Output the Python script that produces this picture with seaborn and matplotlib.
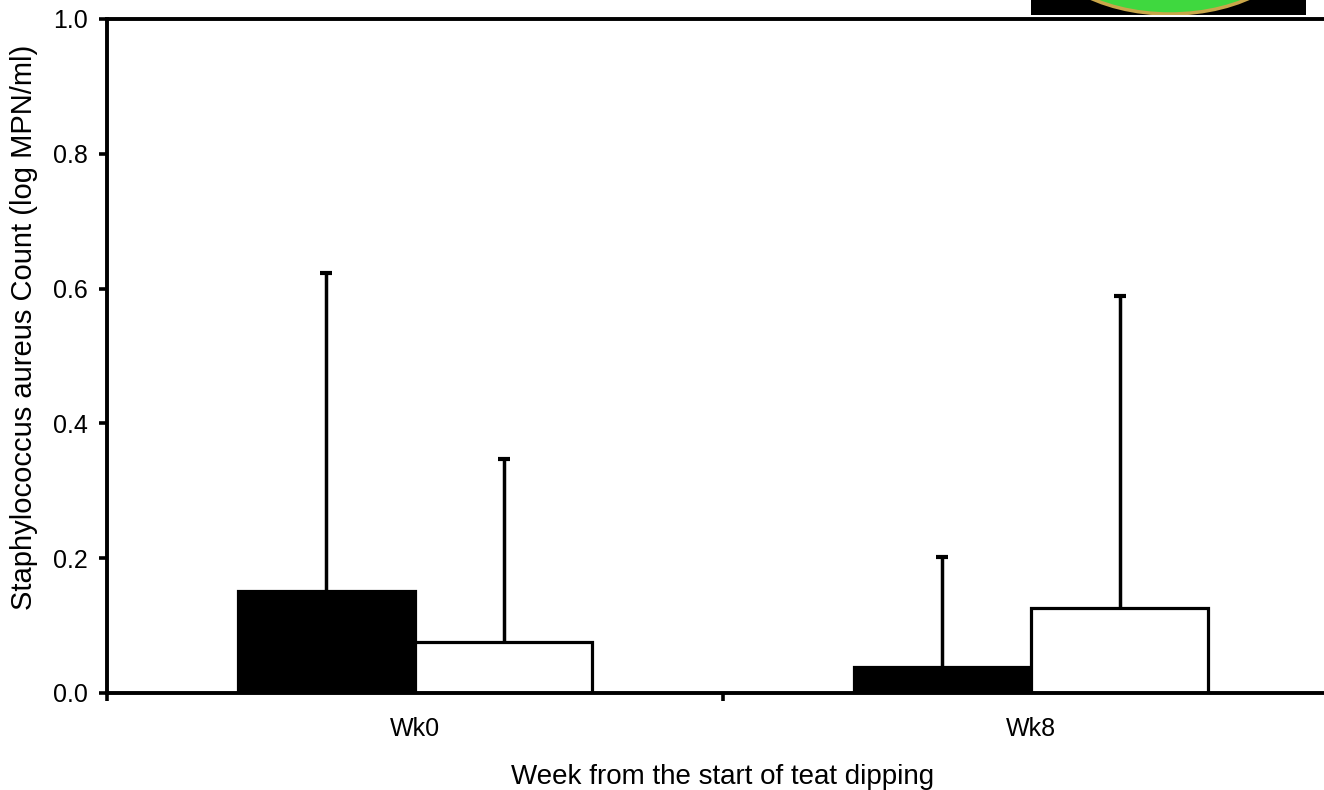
import matplotlib
matplotlib.use("Agg")
import matplotlib.pyplot as plt
from matplotlib.patches import Rectangle, Ellipse
import numpy as np
import pandas as pd
import seaborn as sns

# values
weeks = ["Wk0", "Wk8"]
groups = ["Treatment", "Control"]
means = {"Treatment": [0.151, 0.038], "Control": [0.076, 0.126]}
upper = {"Treatment": [0.623, 0.202], "Control": [0.347, 0.589]}
bar_colors = ["black", "white"]


def main():
    rows = []
    for g in groups:
        for i, w in enumerate(weeks):
            rows.append({"week": w, "group": g, "count": means[g][i]})
    df = pd.DataFrame(rows)

    sns.set_style("ticks")
    plt.rcParams["font.family"] = ["Liberation Sans", "DejaVu Sans"]
    for key in ["text.color", "axes.labelcolor", "xtick.color", "ytick.color"]:
        plt.rcParams[key] = "black"

    fig = plt.figure(figsize=(13.24, 7.9), dpi=100)
    ax = fig.add_axes([107 / 1324, 97 / 790, 1232 / 1324, 674 / 790])

    sns.barplot(data=df, x="week", y="count", hue="group", hue_order=groups,
                palette=bar_colors, edgecolor="black", linewidth=2.3,
                width=0.575, errorbar=None, legend=False, ax=ax, zorder=2)

    # upward-only error bars: stem from bar top, cap on the upper end
    for container, g in zip(ax.containers, groups):
        xs = [p.get_x() + p.get_width() / 2 for p in container.patches]
        ax.vlines(xs, means[g], upper[g], colors="black", linewidth=2.5,
                  zorder=1)
        ax.plot(xs, upper[g], linestyle="none", marker="_", markersize=8,
                markeredgewidth=3, color="black", zorder=1)

    ax.set_ylim(0, 1.0)
    ax.set_xlim(-0.5, 1.5)
    ax.set_yticks(np.arange(0, 1.01, 0.2))
    ax.set_yticklabels([f"{v:.1f}" for v in np.arange(0, 1.01, 0.2)])
    ax.set_xticks([0, 1])
    ax.set_xticklabels(weeks)
    ax.set_xticks([-0.5, 0.5, 1.5], minor=True)
    ax.tick_params(axis="x", which="major", length=0, pad=17, labelsize=18)
    ax.tick_params(axis="x", which="minor", length=6, width=2.6, direction="out")
    ax.tick_params(axis="y", length=5.5, width=2.6, direction="out", pad=8,
                   labelsize=18)

    for side in ["left", "bottom", "top", "right"]:
        ax.spines[side].set_linewidth(2.8)
        ax.spines[side].set_color("black")
        ax.spines[side].set_visible(True)

    ax.set_xlabel("Week from the start of teat dipping", fontsize=20, labelpad=17)
    ax.set_ylabel("Staphylococcus aureus Count (log MPN/ml)", fontsize=21)
    ax.yaxis.set_label_coords(-0.056, 0.543)

    # clipped logo in the top right corner
    box = Rectangle((1031 / 1324, 775 / 790), 275 / 1324, 15 / 790,
                    transform=fig.transFigure, facecolor="black",
                    edgecolor="none", zorder=5)
    fig.patches.append(box)
    logo = Ellipse((1170 / 1324, 856 / 790), 266 / 1324, 160 / 790,
                   transform=fig.transFigure, facecolor="#3fd83f",
                   edgecolor="#c9a64a", linewidth=2.5, zorder=6)
    logo.set_clip_path(box)
    fig.patches.append(logo)

    fig.savefig("out.png", dpi=100)


if __name__ == "__main__":
    main()
